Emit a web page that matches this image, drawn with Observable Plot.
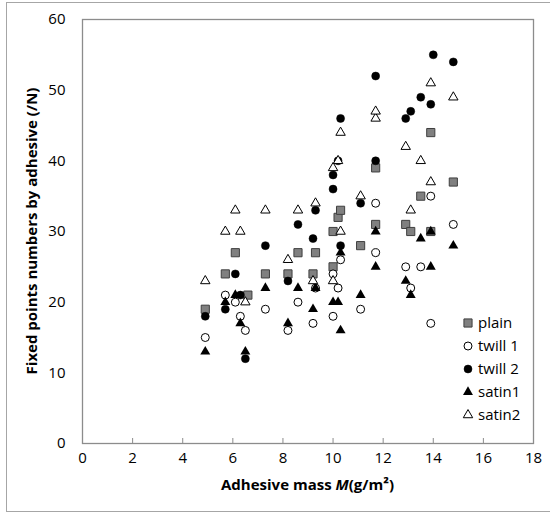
<!DOCTYPE html>
<html><head><meta charset="utf-8">
<script src="https://cdn.jsdelivr.net/npm/d3@7"></script>
<script src="https://cdn.jsdelivr.net/npm/@observablehq/plot@0.6"></script>
<style>
body{margin:0;background:#fff;}
#wrap{position:relative;width:550px;height:516px;overflow:hidden;}
#border{position:absolute;left:6px;top:2px;width:550px;height:510px;border:1px solid #a6a6a6;box-sizing:border-box;pointer-events:none}
#wrap svg{position:absolute;left:0;top:0;}
</style></head><body><div id="wrap"><div id="border"></div></div>
<script>
const xTicks = [0,2,4,6,8,10,12,14,16,18];
const yTicks = [0,10,20,30,40,50,60];
const seriesNames = ["plain","twill 1","twill 2","satin1","satin2"];

const plainX = [4.9,5.7,6.1,6.6,7.3,8.2,8.6,9.2,9.3,10.0,10.0,10.2,10.3,11.1,11.7,11.7,12.9,13.1,13.5,13.9,13.9,14.8];
const plainY = [19,24,27,21,24,24,27,24,27,25,30,32,33,28,31,39,31,30,35,30,44,37];

const twill1X = [4.9,5.7,6.1,6.3,6.5,7.3,8.2,8.6,9.2,9.3,10.0,10.0,10.2,10.3,11.1,11.7,11.7,12.9,13.1,13.5,13.9,13.9,14.8];
const twill1Y = [15,21,20,18,16,19,16,20,17,22,18,24,22,26,19,27,34,25,22,25,17,35,31];

const twill2X = [4.9,5.7,6.1,6.3,6.5,7.3,8.2,8.6,9.2,9.3,10.0,10.0,10.2,10.3,10.3,11.1,11.7,11.7,12.9,13.1,13.5,13.9,14.0,14.8];
const twill2Y = [18,19,24,21,12,28,23,31,29,33,36,38,40,28,46,34,40,52,46,47,49,48,55,54];

const satin1X = [4.9,5.7,6.1,6.3,6.5,7.3,8.2,8.6,9.2,9.3,10.0,10.2,10.3,10.3,11.1,11.7,11.7,12.9,13.1,13.5,13.9,13.9,14.8];
const satin1Y = [13,20,21,17,13,22,17,22,19,22,20,20,16,27,21,25,30,23,21,29,25,30,28];

const satin2X = [4.9,5.7,6.1,6.3,6.5,7.3,8.2,8.6,9.2,9.3,10.0,10.0,10.2,10.3,10.3,11.1,11.7,11.7,12.9,13.1,13.5,13.9,13.9,14.8];
const satin2Y = [23,30,33,30,20,33,26,33,23,34,23,39,40,30,44,35,46,47,42,33,40,37,51,49];

const styles = [
  {symbol:"square", fill:"#808080", stroke:"#3f3f3f", r:4.6, sw:1},
  {symbol:"circle", fill:"#ffffff", stroke:"#000000", r:4, sw:1},
  {symbol:"circle", fill:"#000000", stroke:"#000000", r:4, sw:0.5},
  {symbol:"triangle", fill:"#000000", stroke:"none", r:3.7, sw:0},
  {symbol:"triangle", fill:"#ffffff", stroke:"#000000", r:3.5, sw:1}
];
const xs = [plainX, twill1X, twill2X, satin1X, satin2X];
const ys = [plainY, twill1Y, twill2Y, satin1Y, satin2Y];

const tables = xs.map((xa, i) => xa.map((x, j) => ({x, y: ys[i][j], s: seriesNames[i]})));

const font = "'Open Sans', 'Noto Sans', sans-serif";
const W = 550, H = 516, mL = 82, mR = 17, mT = 19, mB = 73;

const chart = Plot.plot({
  width: W, height: H,
  marginLeft: mL, marginRight: mR, marginTop: mT, marginBottom: mB,
  x: {domain: [0, 18], ticks: xTicks},
  y: {domain: [0, 60], ticks: yTicks},
  style: {fontFamily: font, fontSize: "15px", color: "#000", background: "transparent"},
  marks: [
    Plot.ruleX(xTicks.slice(1, -1), {x: d => d, stroke: "#8c8c8c", insetTop: H - mT - mB - 5}),
    Plot.frame({stroke: "#8c8c8c", strokeWidth: 1.3}),
    Plot.axisX(xTicks, {tickSize: 0, tickPadding: 9, label: null, fontSize: 15}),
    Plot.axisY(yTicks, {tickSize: 0, tickPadding: 17, label: null, fontSize: 15}),
    ...tables.map((t, i) => Plot.dot(t, {
      x: "x", y: "y", symbol: styles[i].symbol, r: styles[i].r,
      fill: styles[i].fill, stroke: styles[i].stroke, strokeWidth: styles[i].sw
    }))
  ]
});

document.getElementById("wrap").appendChild(chart);

const svg = d3.select(chart);
// X axis title
const xt = svg.append("text")
  .attr("x", mL + (W - mL - mR) / 2)
  .attr("y", 490)
  .attr("text-anchor", "middle")
  .attr("font-family", font).attr("font-size", 15).attr("font-weight", "bold");
xt.append("tspan").text("Adhesive mass ");
xt.append("tspan").attr("font-style", "italic").text("M");
xt.append("tspan").text("(g/m²)");
// Y axis title
svg.append("text")
  .attr("transform", `translate(33,${mT + (H - mT - mB) / 2}) rotate(-90)`)
  .attr("text-anchor", "middle")
  .attr("dominant-baseline", "middle")
  .attr("font-family", font).attr("font-size", 15).attr("font-weight", "bold")
  .text("Fixed points numbers by adhesive (/N)");

// Legend
const lg = svg.append("g").attr("font-family", font).attr("font-size", 15).attr("text-anchor", "start");
seriesNames.forEach((name, i) => {
  const st = styles[i];
  const cy = 323 + i * 23;
  const sym = {square: d3.symbolSquare, circle: d3.symbolCircle, triangle: d3.symbolTriangle}[st.symbol];
  lg.append("path")
    .attr("transform", `translate(468,${cy})`)
    .attr("d", d3.symbol(sym, Math.PI * st.r * st.r)())
    .attr("fill", st.fill).attr("stroke", st.stroke).attr("stroke-width", st.sw);
  lg.append("text").attr("x", 478).attr("y", cy).attr("dy", "0.35em").attr("text-anchor", "start").text(name);
});
</script>
</body></html>
